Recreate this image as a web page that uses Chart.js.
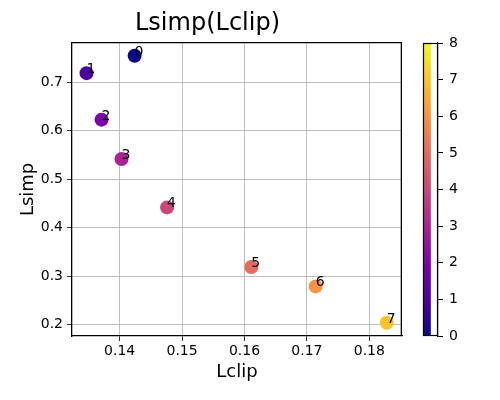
<!DOCTYPE html>
<html>
<head>
<meta charset="utf-8">
<script src="https://cdn.jsdelivr.net/npm/chart.js@4/dist/chart.umd.min.js"></script>
<style>
  html, body { margin: 0; padding: 0; background: #ffffff; }
  #wrap { position: relative; width: 500px; height: 400px; }
  #wrap canvas { position: absolute; left: 0; top: 0; }
</style>
</head>
<body>
<div id="wrap">
  <canvas id="main" width="500" height="400"></canvas>
  <canvas id="cbar" width="500" height="400"></canvas>
</div>
<script>
// ---- data ----
const pointLabels = ['0', '1', '2', '3', '4', '5', '6', '7'];
const lclip = [0.1424, 0.1347, 0.1371, 0.1403, 0.1476, 0.1611, 0.1714, 0.1828];
const lsimp = [0.755, 0.719, 0.623, 0.542, 0.442, 0.319, 0.279, 0.204];
const colorValues = [0, 1, 2, 3, 4, 5, 6, 7];
const xTicks = [0.14, 0.15, 0.16, 0.17, 0.18];
const yTicks = [0.2, 0.3, 0.4, 0.5, 0.6, 0.7];
const cbarTicks = [0, 1, 2, 3, 4, 5, 6, 7, 8];
const cbarRange = [0, 8];

const plasma = ['#0d0887', '#4c02a1', '#7e03a8', '#a92395', '#cc4778', '#e56b5d', '#f89441', '#fdc328', '#f0f921'];
function hexToRgb(h) { return [parseInt(h.substr(1,2),16), parseInt(h.substr(3,2),16), parseInt(h.substr(5,2),16)]; }
function plasmaColor(t) {
  t = Math.max(0, Math.min(1, t));
  const pos = t * (plasma.length - 1);
  const i = Math.min(Math.floor(pos), plasma.length - 2);
  const f = pos - i;
  const a = hexToRgb(plasma[i]), b = hexToRgb(plasma[i + 1]);
  const c = a.map((v, k) => Math.round(v + (b[k] - v) * f));
  return 'rgb(' + c.join(',') + ')';
}

const FONT = '"DejaVu Sans", sans-serif';
Chart.defaults.font.family = FONT;
Chart.defaults.color = '#000';

const pointColors = colorValues.map(v => plasmaColor((v - cbarRange[0]) / (cbarRange[1] - cbarRange[0])));

const SPINE = 1.3;

const labelsPlugin = {
  id: 'ptlabels',
  afterDatasetsDraw(chart) {
    const { ctx } = chart;
    const xs = chart.scales.x, ys = chart.scales.y;
    ctx.save();
    ctx.font = '14px ' + FONT;
    ctx.fillStyle = '#000';
    ctx.textAlign = 'left';
    ctx.textBaseline = 'alphabetic';
    pointLabels.forEach((t, i) => {
      ctx.fillText(t, xs.getPixelForValue(lclip[i]), ys.getPixelForValue(lsimp[i]));
    });
    ctx.restore();
  },
  afterDraw(chart) {
    // top and right spines of the axes box
    const { ctx, chartArea: a } = chart;
    const h = SPINE / 2;
    const top = Math.round(a.top - h) + h;
    const right = Math.round(a.right) - h;
    ctx.save();
    ctx.strokeStyle = '#000';
    ctx.lineWidth = SPINE;
    ctx.beginPath();
    ctx.moveTo(a.left, top);
    ctx.lineTo(right, top);
    ctx.lineTo(right, a.bottom);
    ctx.stroke();
    ctx.restore();
  }
};

const XMIN = 0.13237, XMAX = 0.18523, YMIN = 0.1767, YMAX = 0.7816;

new Chart(document.getElementById('main'), {
  type: 'scatter',
  data: {
    datasets: [{
      data: lclip.map((x, i) => ({ x: x, y: lsimp[i] })),
      pointBackgroundColor: pointColors,
      pointBorderWidth: 0,
      pointRadius: 7,
      pointHoverRadius: 7
    }]
  },
  options: {
    responsive: false,
    animation: false,
    events: [],
    layout: { padding: { left: 13, right: 98, top: 0, bottom: 12 } },
    plugins: {
      legend: { display: false },
      tooltip: { enabled: false },
      title: {
        display: true,
        text: 'Lsimp(Lclip)',
        color: '#000',
        font: { size: 24, weight: 'normal', family: FONT },
        padding: { top: 9, bottom: 5 }
      }
    },
    scales: {
      x: {
        type: 'linear',
        min: XMIN,
        max: XMAX,
        afterBuildTicks: s => { s.ticks = xTicks.map(v => ({ value: v })); },
        afterFit: s => { s.height = 52; },
        ticks: { font: { size: 14 }, color: '#000', padding: 2, maxRotation: 0, callback: v => v.toFixed(2) },
        grid: { color: '#b0b0b0', lineWidth: 0.8, tickColor: '#000', tickLength: 5 },
        border: { color: '#000', width: SPINE },
        title: { display: true, text: 'Lclip', color: '#000', font: { size: 18 }, padding: { top: 2, bottom: 5 } }
      },
      y: {
        type: 'linear',
        min: YMIN,
        max: YMAX,
        afterBuildTicks: s => { s.ticks = yTicks.map(v => ({ value: v })); },
        afterFit: s => { s.width = 59; },
        ticks: { font: { size: 14 }, color: '#000', padding: 4, callback: v => v.toFixed(1) },
        grid: { color: '#b0b0b0', lineWidth: 0.8, tickColor: '#000', tickLength: 5 },
        border: { color: '#000', width: SPINE },
        title: { display: true, text: 'Lsimp', color: '#000', font: { size: 18 }, padding: { top: 5, bottom: 2 } }
      }
    }
  },
  plugins: [labelsPlugin]
});

// ---- colorbar ----
const cbarFrame = {
  id: 'cbarFrame',
  afterDraw(chart) {
    const { ctx, chartArea: a } = chart;
    ctx.save();
    ctx.strokeStyle = '#000';
    ctx.lineWidth = 1.2;
    ctx.strokeRect(Math.round(a.left) + 0.5, Math.round(a.top) + 0.5, Math.round(a.right - a.left) - 1, Math.round(a.bottom - a.top) - 1);
    ctx.restore();
  }
};

new Chart(document.getElementById('cbar'), {
  type: 'bar',
  data: {
    labels: [''],
    datasets: [{
      data: [cbarRange],
      barPercentage: 1,
      categoryPercentage: 1,
      borderWidth: 0,
      backgroundColor: (c) => {
        const ca = c.chart.chartArea;
        if (!ca) return plasma[0];
        const g = c.chart.ctx.createLinearGradient(0, ca.bottom, 0, ca.top);
        plasma.forEach((col, i) => g.addColorStop(i / (plasma.length - 1), col));
        return g;
      }
    }]
  },
  options: {
    responsive: false,
    animation: false,
    events: [],
    layout: { padding: { left: 423, right: 0, top: 43, bottom: 64 } },
    plugins: { legend: { display: false }, tooltip: { enabled: false } },
    scales: {
      x: { display: false, offset: false },
      y: {
        position: 'right',
        min: cbarRange[0],
        max: cbarRange[1],
        afterBuildTicks: s => { s.ticks = cbarTicks.map(v => ({ value: v })); },
        afterFit: s => { s.width = 62; },
        ticks: { font: { size: 14 }, color: '#000', padding: 6 },
        grid: { drawOnChartArea: false, drawTicks: true, tickColor: '#000', tickLength: 5 },
        border: { color: '#000', width: 1.2 }
      }
    }
  },
  plugins: [cbarFrame]
});
</script>
</body>
</html>
